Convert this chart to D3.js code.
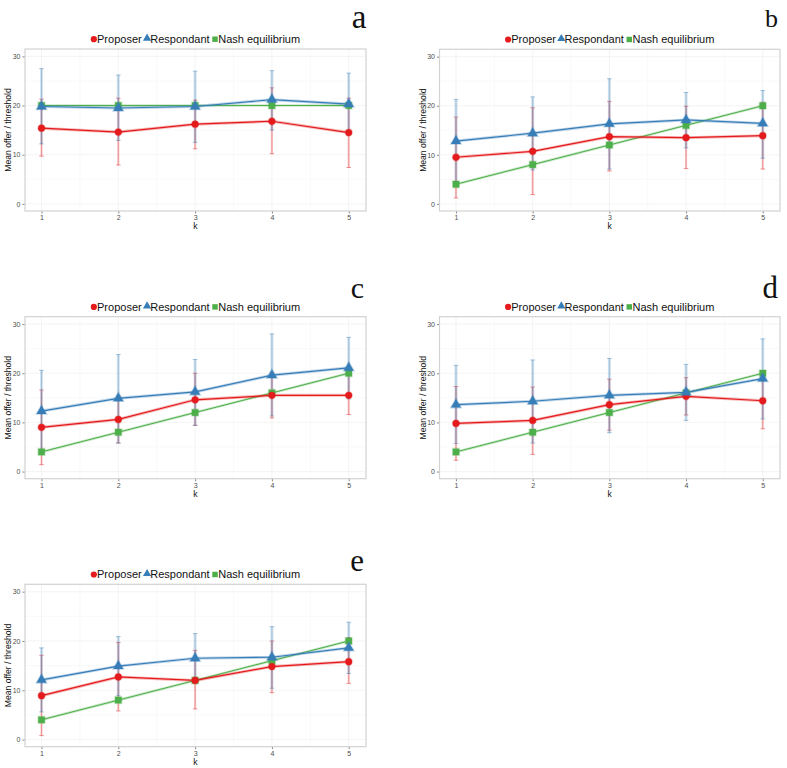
<!DOCTYPE html>
<html><head><meta charset="utf-8">
<script src="https://cdn.jsdelivr.net/npm/d3@7"></script>
<style>body{margin:0;background:#fff}svg{display:block}</style>
</head><body>
<svg id="chart" width="787" height="768"></svg>
<script>
// ---------- data ----------
const kValues = [1, 2, 3, 4, 5];
const yTicks = [0, 10, 20, 30];
const seriesNames = ["Proposer", "Respondant", "Nash equilibrium"];
const panelLabels = ["a", "b", "c", "d", "e"];

// panel a
const propA   = [15.4, 14.6, 16.2, 16.8, 14.5];
const propLoA = [9.7, 7.9, 11.2, 10.2, 7.4];
const propHiA = [21.3, 21.5, 21.1, 23.6, 21.5];
const respA   = [19.8, 19.5, 19.8, 21.2, 20.3];
const respLoA = [12.2, 12.9, 12.5, 15.0, 14.0];
const respHiA = [27.5, 26.2, 27.0, 27.1, 26.6];
const nashA   = [20, 20, 20, 20, 20];
// panel b
const propB   = [9.5, 10.7, 13.7, 13.5, 13.9];
const propLoB = [1.2, 1.9, 6.7, 7.2, 7.1];
const propHiB = [17.7, 19.6, 20.9, 19.9, 20.7];
const respB   = [12.8, 14.4, 16.3, 17.1, 16.4];
const respLoB = [4.5, 6.9, 7.1, 11.4, 9.3];
const respHiB = [21.3, 21.8, 25.5, 22.7, 23.1];
const nashB   = [4, 8, 12, 16, 20];
// panel c
const propC   = [9.0, 10.6, 14.6, 15.5, 15.5];
const propLoC = [1.4, 5.8, 9.4, 10.9, 11.6];
const propHiC = [16.6, 15.4, 20.0, 20.2, 19.6];
const respC   = [12.3, 14.9, 16.2, 19.6, 21.1];
const respLoC = [4.1, 5.8, 9.4, 11.3, 14.8];
const respHiC = [20.6, 23.8, 22.8, 28.0, 27.3];
const nashC   = [4, 8, 12, 16, 20];
// panel d
const propD   = [9.8, 10.4, 13.6, 15.3, 14.4];
const propLoD = [2.3, 3.5, 8.4, 11.5, 8.7];
const propHiD = [17.3, 17.2, 18.8, 19.1, 20.1];
const respD   = [13.6, 14.3, 15.5, 16.1, 18.9];
const respLoD = [5.7, 5.8, 7.9, 10.4, 10.7];
const respHiD = [21.6, 22.7, 23.0, 21.8, 27.0];
const nashD   = [4, 8, 12, 16, 20];
// panel e
const propE   = [8.9, 12.7, 12.0, 14.8, 15.8];
const propLoE = [0.8, 5.8, 6.2, 9.5, 11.4];
const propHiE = [17.1, 19.7, 18.1, 20.0, 20.7];
const respE   = [12.1, 14.9, 16.5, 16.7, 18.6];
const respLoE = [5.6, 8.9, 12.4, 10.4, 13.4];
const respHiE = [18.6, 20.9, 21.5, 22.9, 23.8];
const nashE   = [4, 8, 12, 16, 20];

// ---------- style / layout ----------
const colors = ["#E41A1C", "#377EB8", "#4DAF4A"];
const xDomain = [0.785, 5.225];
const yDomain = [-1.45, 31.5];

const panels = [
  {label: panelLabels[0], left: 25,    top: 49,    w: 341,   h: 162,   titleX: 8.3,   letterX: 366.5, letterY: 27.5, letterSize: 33,
   prop: propA, propLo: propLoA, propHi: propHiA, resp: respA, respLo: respLoA, respHi: respHiA, nash: nashA},
  {label: panelLabels[1], left: 439.5, top: 49.3,  w: 340.5, h: 161.7, titleX: 423.3, letterX: 778,   letterY: 26.8, letterSize: 26,
   prop: propB, propLo: propLoB, propHi: propHiB, resp: respB, respLo: respLoB, respHi: respHiB, nash: nashB},
  {label: panelLabels[2], left: 25,    top: 316.7, w: 341,   h: 162,   titleX: 8.3,   letterX: 364,   letterY: 298.3, letterSize: 30,
   prop: propC, propLo: propLoC, propHi: propHiC, resp: respC, respLo: respLoC, respHi: respHiC, nash: nashC},
  {label: panelLabels[3], left: 439.5, top: 316.7, w: 340.5, h: 162,   titleX: 423.3, letterX: 778,   letterY: 298.3, letterSize: 31,
   prop: propD, propLo: propLoD, propHi: propHiD, resp: respD, respLo: respLoD, respHi: respHiD, nash: nashD},
  {label: panelLabels[4], left: 25,    top: 584.3, w: 341,   h: 162.4, titleX: 8.3,   letterX: 364,   letterY: 570.7, letterSize: 31,
   prop: propE, propLo: propLoE, propHi: propHiE, resp: respE, respLo: respLoE, respHi: respHiE, nash: nashE}
];

const svg = d3.select("#chart");
const sans = "'Liberation Sans', Arial, Helvetica, sans-serif";

function marker(sel, idx, size) {
  const type = [d3.symbolCircle, d3.symbolTriangle, d3.symbolSquare][idx];
  return sel.attr("d", d3.symbol().type(type).size(size));
}
const markerSizes = [36, 44, 42];

panels.forEach(p => {
  const g = svg.append("g");
  const x = d3.scaleLinear().domain(xDomain).range([p.left, p.left + p.w]);
  const y = d3.scaleLinear().domain(yDomain).range([p.top + p.h, p.top]);

  // background + grid
  g.append("rect").attr("x", p.left).attr("y", p.top).attr("width", p.w).attr("height", p.h).attr("fill", "#fff");
  const grid = g.append("g");
  [5, 15, 25].forEach(v => grid.append("line").attr("x1", p.left).attr("x2", p.left + p.w)
    .attr("y1", y(v)).attr("y2", y(v)).attr("stroke", "#f3f3f3").attr("stroke-width", 0.5));
  [1.5, 2.5, 3.5, 4.5].forEach(v => grid.append("line").attr("y1", p.top).attr("y2", p.top + p.h)
    .attr("x1", x(v)).attr("x2", x(v)).attr("stroke", "#f3f3f3").attr("stroke-width", 0.5));
  yTicks.forEach(v => grid.append("line").attr("x1", p.left).attr("x2", p.left + p.w)
    .attr("y1", y(v)).attr("y2", y(v)).attr("stroke", "#ededed").attr("stroke-width", 0.6));
  kValues.forEach(v => grid.append("line").attr("y1", p.top).attr("y2", p.top + p.h)
    .attr("x1", x(v)).attr("x2", x(v)).attr("stroke", "#ededed").attr("stroke-width", 0.6));

  // axes
  const ax = g.append("g").attr("transform", `translate(${p.left},0)`)
    .call(d3.axisLeft(y).tickValues(yTicks).tickSize(2.5).tickPadding(2));
  const bx = g.append("g").attr("transform", `translate(0,${p.top + p.h})`)
    .call(d3.axisBottom(x).tickValues(kValues).tickFormat(d3.format("d")).tickSize(2.5).tickPadding(2));
  [ax, bx].forEach(a => {
    a.select(".domain").remove();
    a.selectAll(".tick line").attr("stroke", "#555").attr("stroke-width", 0.7);
    a.selectAll(".tick text").attr("fill", "#4d4d4d").style("font-family", sans).style("font-size", "7px");
  });

  // border
  g.append("rect").attr("x", p.left).attr("y", p.top).attr("width", p.w).attr("height", p.h)
    .attr("fill", "none").attr("stroke", "#d2d2d2").attr("stroke-width", 1.2);

  // axis titles
  g.append("text").attr("x", p.left + p.w / 2).attr("y", p.top + p.h + 18.3)
    .attr("text-anchor", "middle").style("font-family", sans).style("font-size", "8.6px").attr("fill", "#111").text("k");
  g.append("text").attr("transform", `translate(${p.titleX},${p.top + p.h / 2}) rotate(-90)`)
    .attr("dy", "0.35em").attr("text-anchor", "middle").style("font-family", sans).style("font-size", "8.6px")
    .attr("fill", "#111").text("Mean offer / threshold");

  // error bars
  const errSets = [[p.propLo, p.propHi, 0], [p.respLo, p.respHi, 1]];
  errSets.forEach(([lo, hi, ci]) => {
    const eg = g.append("g");
    kValues.forEach((k, i) => {
      const cx = x(k);
      eg.append("line").attr("x1", cx).attr("x2", cx).attr("y1", y(lo[i])).attr("y2", y(hi[i]))
        .attr("stroke", colors[ci]).attr("stroke-opacity", 0.22).attr("stroke-width", ci === 1 ? 3 : 2.2);
      eg.append("line").attr("x1", cx).attr("x2", cx).attr("y1", y(lo[i])).attr("y2", y(hi[i]))
        .attr("stroke", colors[ci]).attr("stroke-opacity", 0.4).attr("stroke-width", 0.7);
      [lo[i], hi[i]].forEach(v => eg.append("line").attr("x1", cx - 2.3).attr("x2", cx + 2.3)
        .attr("y1", y(v)).attr("y2", y(v)).attr("stroke", colors[ci]).attr("stroke-opacity", 0.45).attr("stroke-width", 1));
    });
  });

  // lines + points
  const seriesVals = [p.prop, p.resp, p.nash];
  const line = d3.line().x((d, i) => x(kValues[i])).y(d => y(d));
  [2, 0, 1].forEach(si => {
    g.append("path").attr("d", line(seriesVals[si])).attr("fill", "none")
      .attr("stroke", colors[si]).attr("stroke-opacity", 0.3).attr("stroke-width", si === 2 ? 2.6 : 3);
    g.append("path").attr("d", line(seriesVals[si])).attr("fill", "none")
      .attr("stroke", colors[si]).attr("stroke-width", si === 2 ? 1.0 : 1.2);
  });
  [2, 0, 1].forEach(si => {
    seriesVals[si].forEach((v, i) => {
      g.append("path").call(marker, si, markerSizes[si])
        .attr("transform", `translate(${x(kValues[i])},${y(v)})`)
        .attr("fill", colors[si]).attr("stroke", colors[si]).attr("stroke-opacity", 0.3).attr("stroke-width", 1.6);
    });
  });

  // legend
  const lg = g.append("g");
  let cur = 0;
  seriesNames.forEach((name, si) => {
    lg.append("path").call(marker, si, 30)
      .attr("transform", `translate(${cur + 3},${si === 1 ? -0.8 : 0})`).attr("fill", colors[si]);
    const t = lg.append("text").attr("x", cur + 6.2).attr("y", 3.9)
      .style("font-family", sans).style("font-size", "11px").attr("fill", "#111").text(name);
    cur += 6.2 + t.node().getComputedTextLength() + 2.4;
  });
  const legendY = p.top - 9.8;
  lg.attr("transform", `translate(${p.left + p.w / 2 - (cur - 2.4) / 2},${legendY})`);

  // panel letter
  g.append("text").attr("x", p.letterX).attr("y", p.letterY).attr("text-anchor", "end")
    .style("font-family", "'Liberation Serif', 'Times New Roman', serif").style("font-size", p.letterSize + "px")
    .attr("fill", "#111").text(p.label);
});
</script>
</body></html>
